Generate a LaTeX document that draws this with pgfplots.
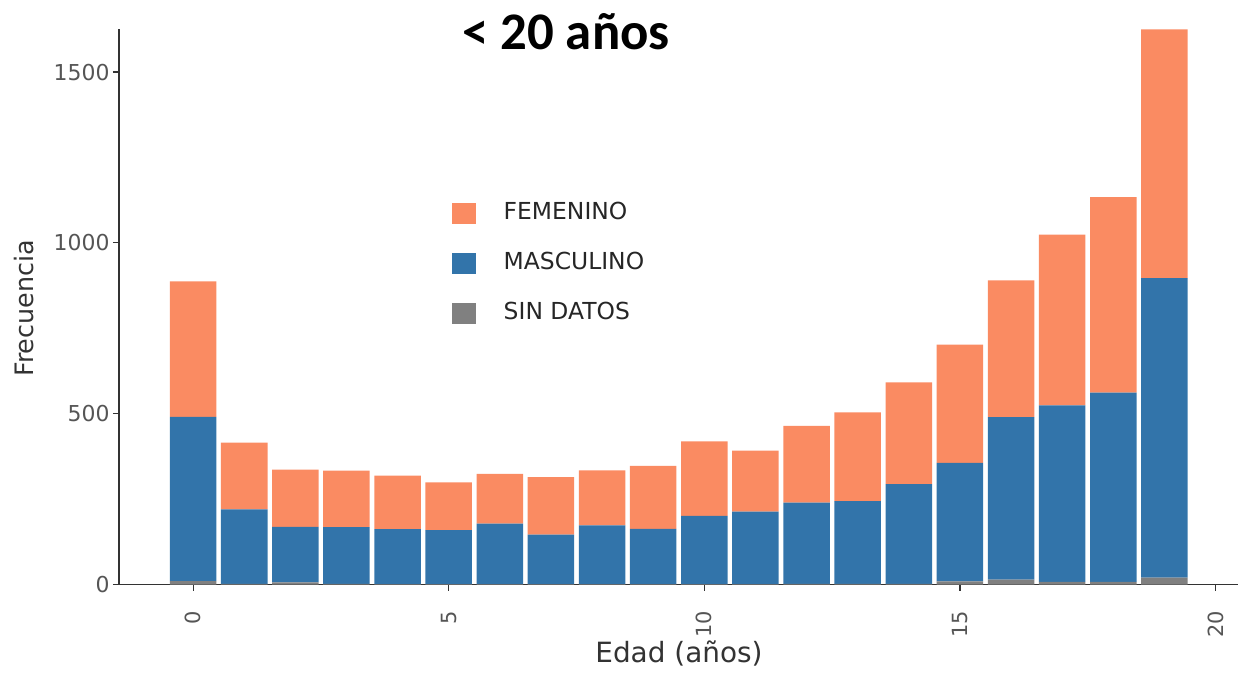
\documentclass[border=0pt]{standalone}
\usepackage{fontspec}
\setmainfont{DejaVu Sans}
\newfontfamily\titlefont{Carlito}
\usepackage{pgfplots}
\pgfplotsset{compat=1.18}
\usepackage{pgfplotstable}

\definecolor{fem}{RGB}{250,139,98}
\definecolor{masc}{RGB}{50,116,170}
\definecolor{sind}{RGB}{128,128,128}
\definecolor{axisgray}{RGB}{51,51,51}
\definecolor{tickgray}{RGB}{85,85,85}

% edad, sin datos, masculino, femenino
\pgfplotstableread{
edad sd masc fem
0  10 481 396
1  2  218 195
2  6  163 167
3  2  166 165
4  1  161 157
5  1  158 140
6  1  177 146
7  1  145 168
8  1  172 161
9  1  162 184
10 1  200 218
11 1  212 179
12 2  238 224
13 2  242 260
14 2  292 298
15 9  347 346
16 14 476 400
17 8  516 500
18 8  554 572
19 20 877 728
}\datos

\begin{document}
\begin{tikzpicture}
\begin{axis}[
  scale only axis,
  width=1119bp, height=555.5bp,
  ybar stacked,
  bar width=0.91,
  every axis plot post/.append style={
    legend image code/.code={\fill[##1] (0bp,-10bp) rectangle (24bp,11bp);}},
  xmin=-1.45, xmax=20.44,
  ymin=0, ymax=1626,
  axis x line*=bottom, axis y line*=left,
  axis line style={axisgray, line width=1.8bp, -},
  xtick={0,5,10,15,20},
  ytick={0,500,1000,1500},
  tick align=outside,
  major tick length=6bp,
  tick style={axisgray, line width=1.2bp},
  /pgf/number format/assume math mode=true,
  /pgf/number format/1000 sep={},
  yticklabel style={font=\fontsize{22}{26}\selectfont, text=tickgray},
  xticklabel style={font=\fontsize{21}{25}\selectfont, text=tickgray,
    yshift=-17bp, rotate=90, anchor=east},
  xlabel={Edad (años)},
  ylabel={Frecuencia},
  xlabel style={font=\fontsize{28}{32}\selectfont, text=axisgray,
    at={(axis description cs:0.5004,-0.1413)}, anchor=base},
  ylabel style={font=\fontsize{25.5}{30}\selectfont, text=axisgray,
    at={(axis description cs:-0.085,0.497)}, anchor=center},
  reverse legend,
  legend style={at={(0.2945,0.694)}, anchor=north west, draw=none, fill=none,
    font=\fontsize{23.5}{28}\selectfont, text=black!85,
    row sep=25bp,
    nodes={inner sep=3bp, text height=15bp, text depth=4bp}},
  legend cell align=left,
  clip=false,
]
\addplot[fill=sind, draw=none] table[x=edad, y=sd] {\datos};
\addlegendentry{\hspace{25bp}SIN DATOS}
\addplot[fill=masc, draw=none] table[x=edad, y=masc] {\datos};
\addlegendentry{\hspace{25bp}MASCULINO}
\addplot[fill=fem, draw=none] table[x=edad, y=fem] {\datos};
\addlegendentry{\hspace{25bp}FEMENINO}
\node[font=\titlefont\bfseries\fontsize{53}{60}\selectfont, anchor=center]
  at (rel axis cs:0.3995,0.995) {< 20 años};
\end{axis}
\path ([xshift=-119bp,yshift=-89.5bp]current axis.south west)
  rectangle ([xshift=3bp,yshift=29bp]current axis.north east);
\end{tikzpicture}
\end{document}
